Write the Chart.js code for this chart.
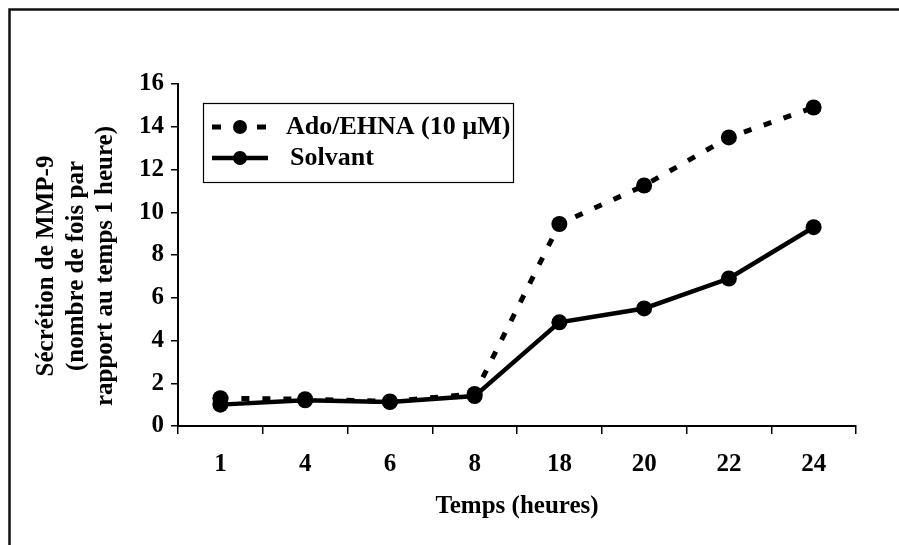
<!DOCTYPE html>
<html>
<head>
<meta charset="utf-8">
<script src="https://cdn.jsdelivr.net/npm/chart.js@4/dist/chart.umd.min.js"></script>
<style>
  html, body { margin: 0; padding: 0; background: #fff; }
  canvas { display: block; }
</style>
</head>
<body>
<canvas id="chart" width="899" height="545"></canvas>
<script>
// data
const hours = ['1', '4', '6', '8', '18', '20', '22', '24'];
const adoEhna = [1.3, 1.25, 1.15, 1.5, 9.45, 11.25, 13.5, 14.9];
const solvant = [1.0, 1.2, 1.12, 1.4, 4.85, 5.5, 6.9, 9.3];
const seriesNames = ['Ado/EHNA (10 µM)', 'Solvant'];
const yTitle = ['Sécrétion de MMP-9', '(nombre de fois par', 'rapport au temps 1 heure)'];
const xTitle = 'Temps (heures)';

const serif = "'Liberation Serif', 'Times New Roman', serif";

// outer frame (only top and left edges visible in the original)
const framePlugin = {
  id: 'frame',
  beforeDraw(chart) {
    const c = chart.ctx;
    c.save();
    c.fillStyle = '#fff';
    c.fillRect(0, 0, chart.width, chart.height);
    c.strokeStyle = '#111';
    c.lineWidth = 2.5;
    c.beginPath();
    c.moveTo(chart.width, 9.5);
    c.lineTo(9.5, 9.5);
    c.lineTo(9.5, chart.height);
    c.stroke();
    c.restore();
  }
};

// y title: three rotated lines, sitting a bit below the axis middle
const yTitlePlugin = {
  id: 'yTitle',
  afterDraw(chart) {
    const c = chart.ctx;
    const area = chart.chartArea;
    const cy = (area.top + area.bottom) / 2 + 11;
    c.save();
    c.font = 'bold 25px ' + serif;
    c.fillStyle = '#000';
    c.textAlign = 'center';
    c.textBaseline = 'middle';
    yTitle.forEach((line, i) => {
      c.save();
      c.translate(47 + i * 29.5, cy);
      c.rotate(-Math.PI / 2);
      c.fillText(line, 0, 0);
      c.restore();
    });
    c.restore();
  }
};

// boxed legend inside the plot, like the original
const boxLegend = {
  id: 'boxLegend',
  afterDraw(chart) {
    const c = chart.ctx;
    c.save();
    c.strokeStyle = '#000';
    c.lineWidth = 1.2;
    c.strokeRect(203.5, 103.5, 310, 79);
    c.font = 'bold 26px ' + serif;
    c.textBaseline = 'middle';
    c.fillStyle = '#000';
    const rows = [127, 158];
    chart.data.datasets.forEach((ds, i) => {
      const y = rows[i];
      c.strokeStyle = '#000';
      c.lineWidth = ds.borderWidth;
      c.beginPath();
      if (ds.borderDash && ds.borderDash.length) {
        c.moveTo(212, y); c.lineTo(221, y);
        c.moveTo(257, y); c.lineTo(266, y);
      } else {
        c.moveTo(212, y); c.lineTo(268, y);
      }
      c.stroke();
      c.beginPath();
      c.arc(240, y, 7, 0, Math.PI * 2);
      c.fill();
      c.fillText(ds.label, i === 0 ? 286 : 290, y);
    });
    c.restore();
  }
};

new Chart(document.getElementById('chart'), {
  type: 'line',
  data: {
    labels: hours,
    datasets: [{
      label: seriesNames[0],
      data: adoEhna,
      borderColor: '#000',
      backgroundColor: '#000',
      borderWidth: 5,
      borderDash: [8, 13],
      pointRadius: 8,
      pointBackgroundColor: '#000',
      pointBorderWidth: 0,
      tension: 0,
      fill: false
    }, {
      label: seriesNames[1],
      data: solvant,
      borderColor: '#000',
      backgroundColor: '#000',
      borderWidth: 4.5,
      pointRadius: 8,
      pointBackgroundColor: '#000',
      pointBorderWidth: 0,
      tension: 0,
      fill: false
    }]
  },
  options: {
    responsive: false,
    animation: false,
    layout: { padding: { left: 0, top: 84, right: 43, bottom: 0 } },
    plugins: {
      legend: { display: false },
      tooltip: { enabled: false }
    },
    scales: {
      x: {
        offset: true,
        afterFit(scale) { scale.height = 119; },
        grid: {
          offset: true,
          drawOnChartArea: false,
          color: '#000',
          lineWidth: 1.5,
          tickLength: 8
        },
        border: { color: '#000', width: 2 },
        ticks: {
          color: '#000',
          padding: 16,
          maxRotation: 0,
          font: { family: serif, size: 25, weight: 'bold' }
        },
        title: {
          display: true,
          text: xTitle,
          color: '#000',
          padding: { top: 0, bottom: 23 },
          font: { family: serif, size: 25, weight: 'bold' }
        }
      },
      y: {
        min: 0,
        max: 16,
        afterFit(scale) { scale.width = 178; },
        grid: {
          drawOnChartArea: false,
          color: '#000',
          lineWidth: 1.5,
          tickLength: 7
        },
        border: { color: '#000', width: 2 },
        ticks: {
          stepSize: 2,
          color: '#000',
          padding: 7,
          font: { family: serif, size: 25, weight: 'bold' }
        }
      }
    }
  },
  plugins: [framePlugin, yTitlePlugin, boxLegend]
});
</script>
</body>
</html>
